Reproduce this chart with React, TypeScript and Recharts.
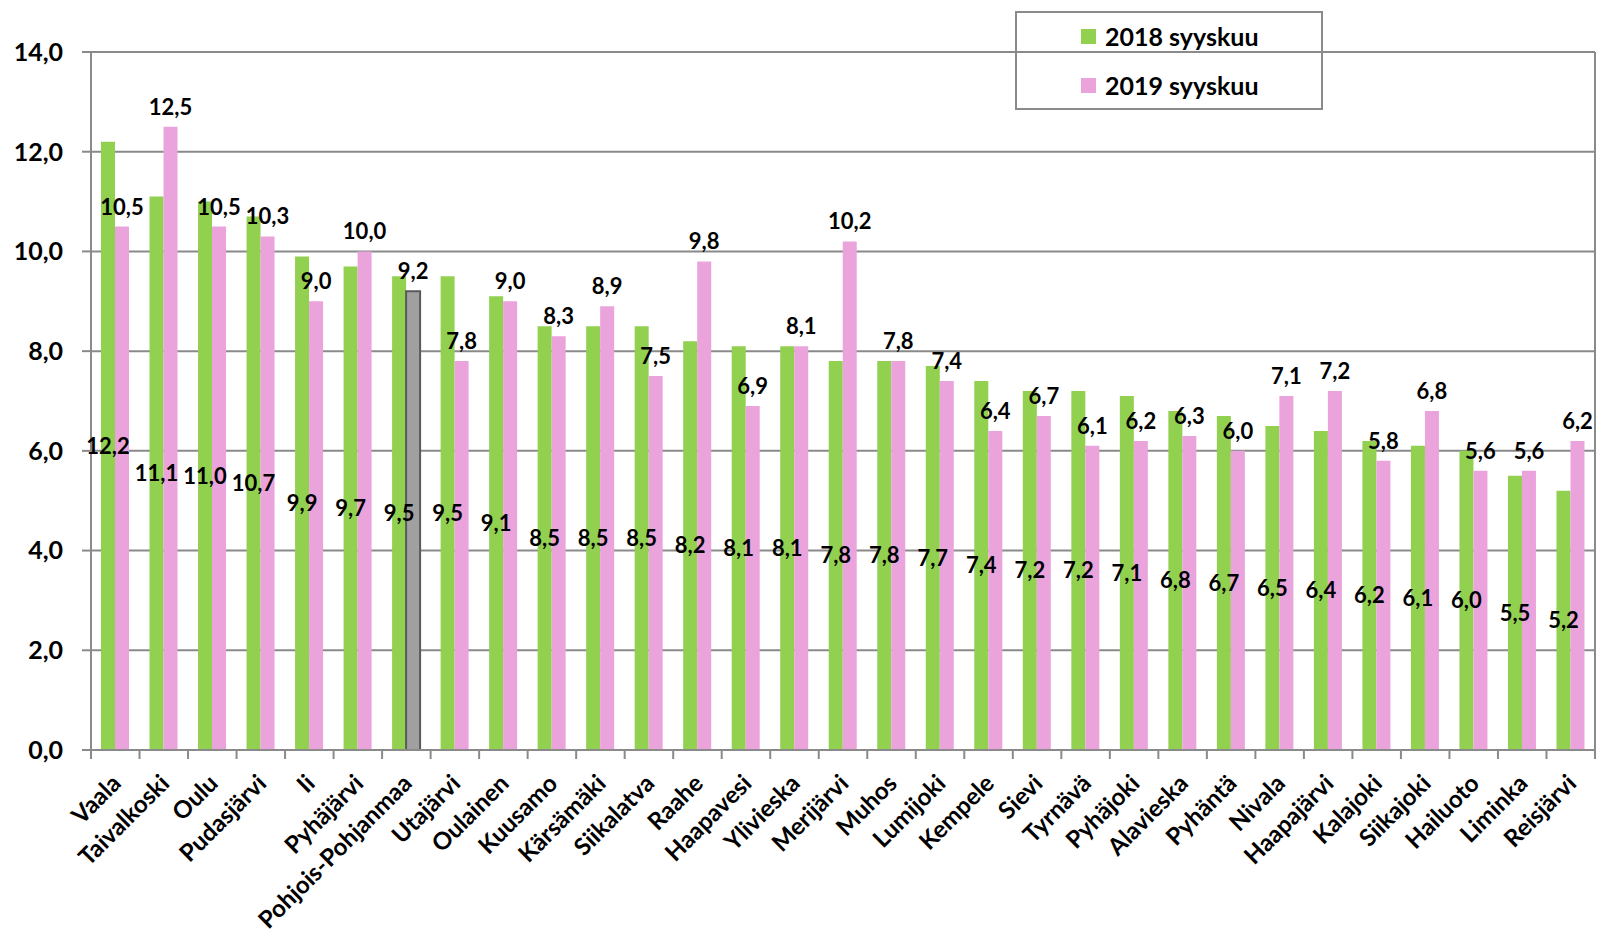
import React from 'react';
import { BarChart, Bar, XAxis, YAxis, CartesianGrid, LabelList, Legend, Cell } from 'recharts';

const categories = [
  'Vaala', 'Taivalkoski', 'Oulu', 'Pudasjärvi', 'Ii', 'Pyhäjärvi', 'Pohjois-Pohjanmaa', 'Utajärvi',
  'Oulainen', 'Kuusamo', 'Kärsämäki', 'Siikalatva', 'Raahe', 'Haapavesi', 'Ylivieska', 'Merijärvi',
  'Muhos', 'Lumijoki', 'Kempele', 'Sievi', 'Tyrnävä', 'Pyhäjoki', 'Alavieska', 'Pyhäntä',
  'Nivala', 'Haapajärvi', 'Kalajoki', 'Siikajoki', 'Hailuoto', 'Liminka', 'Reisjärvi',
];
const values2018 = [
  12.2, 11.1, 11.0, 10.7, 9.9, 9.7, 9.5, 9.5,
  9.1, 8.5, 8.5, 8.5, 8.2, 8.1, 8.1, 7.8,
  7.8, 7.7, 7.4, 7.2, 7.2, 7.1, 6.8, 6.7,
  6.5, 6.4, 6.2, 6.1, 6.0, 5.5, 5.2,
];
const values2019 = [
  10.5, 12.5, 10.5, 10.3, 9.0, 10.0, 9.2, 7.8,
  9.0, 8.3, 8.9, 7.5, 9.8, 6.9, 8.1, 10.2,
  7.8, 7.4, 6.4, 6.7, 6.1, 6.2, 6.3, 6.0,
  7.1, 7.2, 5.8, 6.8, 5.6, 5.6, 6.2,
];
const yTicks = [0, 2, 4, 6, 8, 10, 12, 14];
const seriesNames = ['2018 syyskuu', '2019 syyskuu'];
const highlightCategory = 'Pohjois-Pohjanmaa';

const GREEN = '#92D050';
const PINK = '#EBA3DC';
const HIGHLIGHT_FILL = '#A0A0A0';
const HIGHLIGHT_STROKE = '#595959';
const AXIS = '#8A8A8A';
const FONT = 'Lato, "Open Sans", sans-serif';

const W = 1599;
const H = 936;
const PLOT_LEFT = 91;
const PLOT_RIGHT = 1595;
const PLOT_TOP = 52;
const PLOT_BOTTOM = 750;
const BAND = (PLOT_RIGHT - PLOT_LEFT) / categories.length;

const data = categories.map((name, i) => ({ name, v2018: values2018[i], v2019: values2019[i] }));

const fmt = (v: any) => Number(v).toFixed(1).replace('.', ',');

const XTick = (props: any) => {
  const { x, payload, index } = props;
  const half = BAND / 2;
  return (
    <g>
      <line x1={x - half} x2={x - half} y1={PLOT_BOTTOM} y2={PLOT_BOTTOM + 9} stroke={AXIS} strokeWidth={2} />
      {index === categories.length - 1 && (
        <line x1={x + half} x2={x + half} y1={PLOT_BOTTOM} y2={PLOT_BOTTOM + 9} stroke={AXIS} strokeWidth={2} />
      )}
      <text
        x={0}
        y={0}
        transform={`translate(${x + 7},${PLOT_BOTTOM + 35}) rotate(-45)`}
        textAnchor="end"
        fontSize={24}
        fontWeight={700}
        fill="#000"
        fontFamily={FONT}
      >
        {payload.value}
      </text>
    </g>
  );
};

const LegendBox = () => {
  const colors = [GREEN, PINK];
  return (
    <div
      style={{
        width: 308,
        height: 99,
        boxSizing: 'border-box',
        border: `2px solid ${AXIS}`,
        position: 'relative',
        fontFamily: FONT,
      }}
    >
      {seriesNames.map((n, i) => (
        <div
          key={n}
          style={{
            position: 'absolute',
            left: 64,
            top: i === 0 ? 10 : 59,
            height: 26,
            display: 'flex',
            alignItems: 'center',
            whiteSpace: 'nowrap',
          }}
        >
          <span style={{ display: 'inline-block', width: 15, height: 15, background: colors[i], marginRight: 9 }} />
          <span style={{ fontSize: 25, fontWeight: 700, color: '#000', lineHeight: '26px' }}>{n}</span>
        </div>
      ))}
    </div>
  );
};

export default function App() {
  return (
    <div style={{ width: W, height: H, overflow: 'hidden', background: '#fff' }}>
      <style>{`html,body{margin:0;padding:0;overflow:hidden;background:#fff}`}</style>
      <BarChart
        width={W}
        height={H}
        data={data}
        margin={{ top: PLOT_TOP, right: 0, left: 0, bottom: 0 }}
        barGap={0}
        barSize={14}
      >
        <CartesianGrid vertical={false} stroke={AXIS} strokeWidth={2} />
        <XAxis
          dataKey="name"
          interval={0}
          tickLine={false}
          height={H - PLOT_BOTTOM}
          axisLine={{ stroke: AXIS, strokeWidth: 2 }}
          tick={(p: any) => <XTick {...p} />}
        />
        <YAxis
          domain={[0, 14]}
          ticks={yTicks}
          width={PLOT_LEFT}
          tickFormatter={fmt}
          tickSize={9}
          tickMargin={19}
          axisLine={{ stroke: AXIS, strokeWidth: 2 }}
          tickLine={{ stroke: AXIS, strokeWidth: 2 }}
          tick={{ fontSize: 25, fontWeight: 700, fill: '#000', fontFamily: FONT }}
          allowDataOverflow
        />
        <YAxis
          yAxisId="r"
          orientation="right"
          width={W - PLOT_RIGHT}
          domain={[0, 14]}
          tick={false}
          tickLine={false}
          axisLine={{ stroke: AXIS, strokeWidth: 2 }}
        />
        <Legend
          layout="horizontal"
          align="center"
          verticalAlign="middle"
          content={() => <LegendBox />}
          wrapperStyle={{ position: 'absolute', left: 1015, top: 11, width: 308, height: 99, bottom: 'auto', right: 'auto' }}
        />
        <Bar dataKey="v2018" name={seriesNames[0]} fill={GREEN} isAnimationActive={false}>
          <LabelList
            dataKey="v2018"
            position="center"
            formatter={fmt}
            fill="#000"
            fontSize={22}
            fontWeight={700}
            fontFamily={FONT}
          />
        </Bar>
        <Bar dataKey="v2019" name={seriesNames[1]} fill={PINK} isAnimationActive={false}>
          {data.map((d) => (
            <Cell
              key={d.name}
              fill={d.name === highlightCategory ? HIGHLIGHT_FILL : PINK}
              stroke={d.name === highlightCategory ? HIGHLIGHT_STROKE : 'none'}
              strokeWidth={d.name === highlightCategory ? 2 : 0}
            />
          ))}
          <LabelList
            dataKey="v2019"
            position="top"
            offset={12}
            formatter={fmt}
            fill="#000"
            fontSize={22}
            fontWeight={700}
            fontFamily={FONT}
          />
        </Bar>
      </BarChart>
    </div>
  );
}
